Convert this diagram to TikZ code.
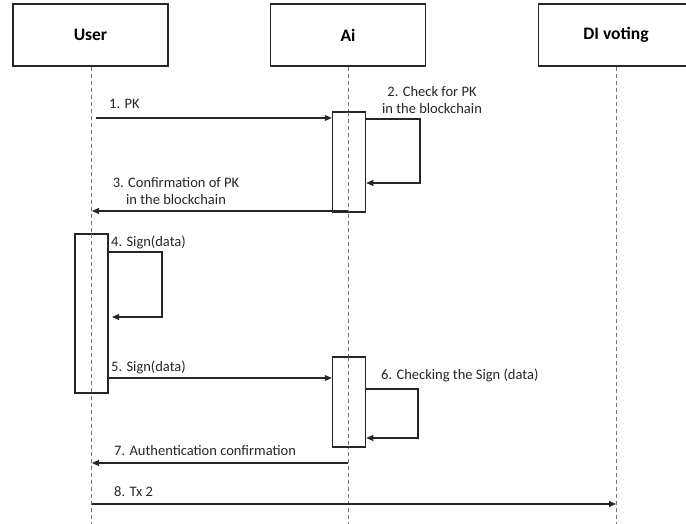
\documentclass[tikz,border=0pt]{standalone}
\usepackage{fontspec}
\setmainfont{Carlito}
\usetikzlibrary{arrows.meta}
\begin{document}
\begin{tikzpicture}[x=1pt,y=-1pt,
  header/.style={draw=black!85,line width=1.8pt,fill=white,minimum width=155pt,minimum height=62pt,inner sep=0pt,font=\fontsize{17.5}{20}\selectfont\bfseries},
  act/.style={draw=black!85,line width=1.5pt,fill=white,minimum width=33pt,inner sep=0pt},
  lifeline/.style={draw=black!55,line width=0.8pt,dash pattern=on 4pt off 3pt},
  msg/.style={draw=black!85,line width=1.1pt,-{Triangle[length=7pt,width=6pt]}},
  lbl/.style={font=\fontsize{14.5}{17}\selectfont,text=black!85,inner sep=0pt}]
\clip (0,0) rectangle (686,524);
\fill[white] (0,0) rectangle (686,524);
% headers
\node[header] (user) at (90.5,35) {User};
\node[header] (ai) at (348,35) {Ai};
\node[header] (dv) at (616,35) {DI voting};
% lifeline ends
\coordinate (userend) at (91,526);
\coordinate (aiend) at (348,526);
\coordinate (dvend) at (616,526);
\draw[lifeline] (user.south -| userend) -- (userend);
\draw[lifeline] (ai.south -| aiend) -- (aiend);
\draw[lifeline] (dv.south -| dvend) -- (dvend);
% activations
\node[act,minimum height=100pt] (ai1) at (349,162) {};
\node[act,minimum height=159pt] (u1) at (91.5,313.5) {};
\node[act,minimum height=90pt] (ai2) at (349,402) {};
\draw[lifeline] (348,112) -- (348,212);
\draw[lifeline] (91,234) -- (91,393);
\draw[lifeline] (348,357) -- (348,447);
% coordinates for messages
\coordinate (m1s) at (96,118);
\coordinate (m3s) at (348,211);
\coordinate (m3e) at (92,211);
\coordinate (m7s) at (348,463);
\coordinate (m7e) at (92,463);
\coordinate (m8s) at (92,504);
\coordinate (m8e) at (616,504);
% 1
\draw[msg] (m1s) -- (m1s -| ai1.west);
\node[lbl,anchor=west] (l1) at (109,104) {1. PK};
% 2
\draw[msg] (ai1.east |- 0,119) -- (420,119) -- (420,183) -- (ai1.east |- 0,183);
\node[lbl,align=center] (l2) at (432,100) {2. Check for PK\\in the blockchain};
% 3
\draw[msg] (m3s) -- (m3e);
\node[lbl,align=center] (l3) at (176,191) {3. Confirmation of PK\\in the blockchain};
% 4
\draw[msg] (u1.east |- 0,252) -- (162,252) -- (162,317) -- (112,317);
\node[lbl,anchor=west] (l4) at (111,242) {4. Sign(data)};
% 5
\draw[msg] (u1.east |- 0,378) -- (ai2.west |- 0,378);
\node[lbl,anchor=west] (l5) at (111,367) {5. Sign(data)};
% 6
\draw[msg] (ai2.east |- 0,389) -- (418,389) -- (418,438) -- (ai2.east |- 0,438);
\node[lbl,anchor=west] (l6) at (381,375) {6. Checking the Sign (data)};
% 7
\draw[msg] (m7s) -- (m7e);
\node[lbl,anchor=west] (l7) at (114,451) {7. Authentication confirmation};
% 8
\draw[msg] (m8s) -- (m8e);
\node[lbl,anchor=west] (l8) at (114,492) {8. Tx 2};
\end{tikzpicture}
\end{document}
